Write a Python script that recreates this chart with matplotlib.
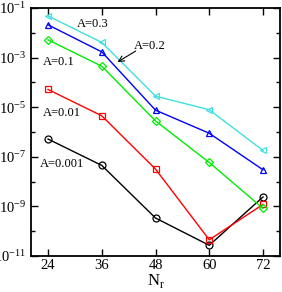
import matplotlib.pyplot as plt
from matplotlib.ticker import FixedLocator, NullFormatter

plt.rcParams['font.family'] = ['Liberation Serif', 'DejaVu Serif']

nr = [24, 36, 48, 60, 72]
a_0001 = [5.2e-7, 4.5e-8, 3.4e-10, 2.7e-11, 2.4e-9]
a_001 = [5.2e-5, 4.5e-6, 3.2e-8, 4.5e-11, 1.2e-9]
a_01 = [5.2e-3, 4.5e-4, 2.8e-6, 5.9e-8, 8.3e-10]
a_02 = [2.1e-2, 1.7e-3, 7.6e-6, 8.9e-7, 3.0e-8]
a_03 = [4.8e-2, 4.1e-3, 2.8e-5, 7.9e-6, 1.8e-7]

fig = plt.figure(figsize=(2.82, 2.92), dpi=100)
ax = fig.add_axes([31 / 282, 1 - 256 / 292, 249 / 282, 248 / 292])

mk = dict(mfc='none', ms=5, lw=1, mew=0.9)
ax.plot(nr, a_0001, color='black', marker='o', **mk)
ax.plot(nr, a_001, color='red', marker='s', ms=4.5, lw=1, mfc='none', mew=0.9)
ax.plot(nr, a_01, color='#00ee00', marker='D', ms=4.5, lw=1, mfc='none', mew=0.9)
ax.plot(nr, a_02, color='blue', marker='^', **mk)
ax.plot(nr, a_03, color='#40e0e0', marker='<', **mk)

ax.set_yscale('log')
ax.set_xlim(20.2, 75.8)
ax.set_ylim(1e-11, 1e-1)
ax.set_xticks(nr)
ax.yaxis.set_major_locator(FixedLocator([10.0 ** k for k in range(-11, 0, 2)]))
ax.yaxis.set_minor_locator(FixedLocator([10.0 ** k for k in range(-10, 0, 2)]))
ax.yaxis.set_minor_formatter(NullFormatter())
ax.tick_params(which='both', direction='in', top=True, right=True, labelsize=10.5)
ax.tick_params(axis='x', pad=2)
ax.tick_params(which='major', length=5, width=1)
ax.tick_params(which='minor', length=3, width=1)
for s in ax.spines.values():
    s.set_linewidth(1.3)

ax.set_xlabel('N$_\\mathregular{r}$', fontsize=12, labelpad=0)

ax.text(30.5, 1.7e-2, 'A=0.3', fontsize=9)
ax.text(43.2, 2.3e-3, 'A=0.2', fontsize=9)
ax.annotate('', xy=(39.0, 5.8e-4), xytext=(44.1, 2.1e-3),
            arrowprops=dict(arrowstyle='->', color='black', lw=0.8))
ax.text(22.9, 5.2e-4, 'A=0.1', fontsize=9)
ax.text(22.9, 4.4e-6, 'A=0.01', fontsize=9)
ax.text(22.2, 4.0e-8, 'A=0.001', fontsize=9)

fig.savefig('out.png', dpi=100)
